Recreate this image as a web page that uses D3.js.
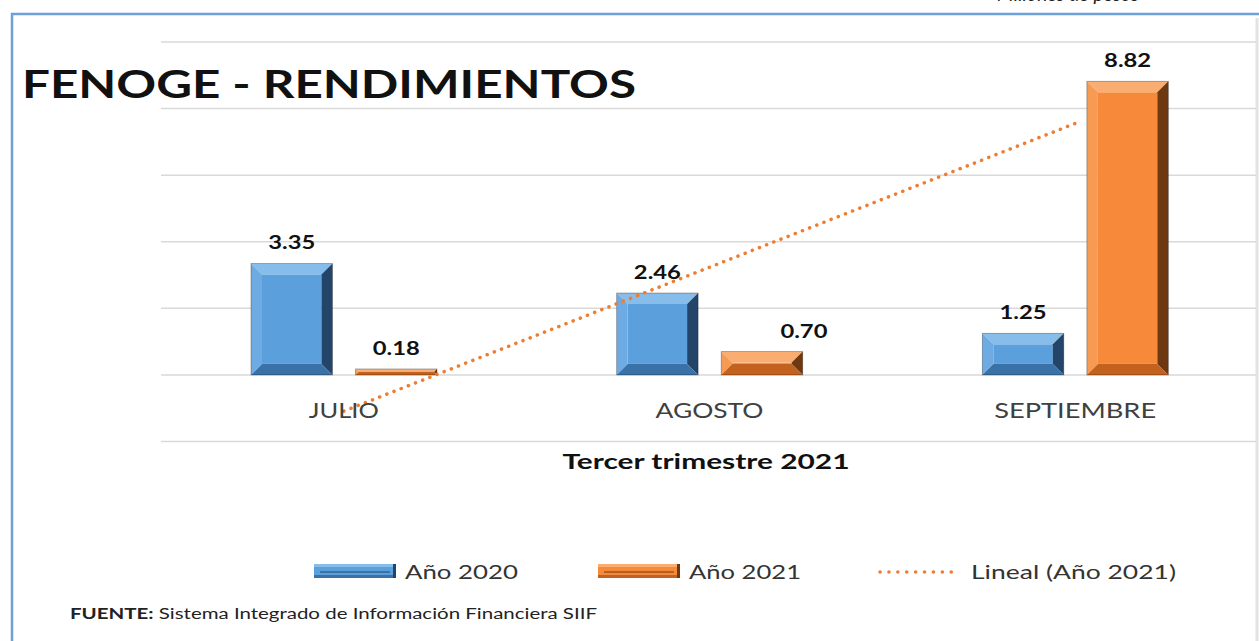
<!DOCTYPE html>
<html>
<head>
<meta charset="utf-8">
<script src="https://cdn.jsdelivr.net/npm/d3@7.9.0/dist/d3.min.js"></script>
<style>
  html, body { margin: 0; padding: 0; background: #fff; }
  svg { display: block; }
  text { font-family: Lato, "Open Sans", sans-serif; }
</style>
</head>
<body>
<svg id="chart" width="1259" height="641"></svg>
<script>
const categories = ['JULIO', 'AGOSTO', 'SEPTIEMBRE'];
const values2020 = [3.35, 2.46, 1.25];
const values2021 = [0.18, 0.70, 8.82];
const gridTicks = [-2, 0, 2, 4, 6, 8, 10];
const seriesNames = ['Año 2020', 'Año 2021', 'Lineal (Año 2021)'];

const W = 1259, H = 641;
const svg = d3.select('#chart');

// the source picture is stretched sideways, so texts get a fixed drawn width
const fit = (sel, w) => sel.attr('textLength', w).attr('lengthAdjust', 'spacingAndGlyphs');
const catWidths = { JULIO: 70, AGOSTO: 108, SEPTIEMBRE: 162 };

// palette (face, top, left, right, bottom)
const bevelColors = {
  blue:   { face: '#5b9fdd', top: '#86bdeb', left: '#6eabe3', right: '#23456a', bottom: '#3a72a8' },
  orange: { face: '#f68a3a', top: '#f9ad70', left: '#f79a52', right: '#6e3810', bottom: '#c2621e' }
};

// frame
svg.append('rect').attr('x', 0).attr('y', 0).attr('width', W).attr('height', H).attr('fill', '#fff');
svg.append('line').attr('x1', 1257).attr('x2', 1257).attr('y1', 18).attr('y2', H)
  .attr('stroke', '#e3e3e3').attr('stroke-width', 3);
svg.append('path').attr('d', `M12,${H} L12,14 L${W},14`)
  .attr('fill', 'none').attr('stroke', '#6d9fd9').attr('stroke-width', 2.5);

// top-right note, cut by the page edge as in the source
fit(svg.append('text').attr('x', 997).attr('y', 1)
  .attr('font-size', 19).attr('font-style', 'italic').attr('fill', '#222')
  .text('Millones de pesos'), 142);

const x = d3.scaleBand().domain(categories).range([161, 1258]);
const inner = d3.scaleBand().domain(['2020', '2021'])
  .range([90, 90 + 186]).paddingInner(0.221);
const y = d3.scaleLinear().domain([-2, 10]).range([441.5, 42]);

// gridlines
svg.append('g').selectAll('line').data(gridTicks).join('line')
  .attr('x1', 161).attr('x2', 1256)
  .attr('y1', d => y(d)).attr('y2', d => y(d))
  .attr('stroke', '#d9d9d9').attr('stroke-width', 1.5);

// title
fit(svg.append('text').attr('x', 22).attr('y', 98)
  .attr('font-size', 38).attr('font-weight', 700).attr('fill', '#111')
  .text('FENOGE - RENDIMIENTOS'), 614);

function bevelBar(g, bx, by, bw, bh, c) {
  const b = Math.min(11, bh / 2, bw / 2);
  const x0 = bx, x1 = bx + bw, y0 = by, y1 = by + bh;
  const ix0 = x0 + b, ix1 = x1 - b, iy0 = y0 + b, iy1 = y1 - b;
  const poly = pts => pts.map(p => p.join(',')).join(' ');
  g.append('rect').attr('x', ix0).attr('y', iy0).attr('width', ix1 - ix0).attr('height', Math.max(0, iy1 - iy0)).attr('fill', c.face);
  g.append('polygon').attr('points', poly([[x0, y0], [x1, y0], [ix1, iy0], [ix0, iy0]])).attr('fill', c.top);
  g.append('polygon').attr('points', poly([[x0, y0], [ix0, iy0], [ix0, iy1], [x0, y1]])).attr('fill', c.left);
  g.append('polygon').attr('points', poly([[x1, y0], [x1, y1], [ix1, iy1], [ix1, iy0]])).attr('fill', c.right);
  g.append('polygon').attr('points', poly([[x0, y1], [ix0, iy1], [ix1, iy1], [x1, y1]])).attr('fill', c.bottom);
  g.append('rect').attr('x', x0).attr('y', y0).attr('width', bw).attr('height', bh)
    .attr('fill', 'none').attr('stroke', 'rgba(0,0,0,0.35)').attr('stroke-width', 0.8);
}

const series = [
  { key: '2020', values: values2020, color: bevelColors.blue },
  { key: '2021', values: values2021, color: bevelColors.orange }
];
// label nudges (Excel moved the 0.70 label to the right)
const labelShift = { '2021-AGOSTO': 42 };

const bars = svg.append('g');
series.forEach(s => {
  s.values.forEach((v, i) => {
    const cat = categories[i];
    const bx = x(cat) + inner(s.key);
    const by = y(v);
    bevelBar(bars, bx, by, inner.bandwidth(), y(0) - by, s.color);
    fit(bars.append('text')
      .attr('x', bx + inner.bandwidth() / 2 + (labelShift[s.key + '-' + cat] || 0))
      .attr('y', by - 14)
      .attr('text-anchor', 'middle').attr('font-size', 18).attr('font-weight', 700).attr('fill', '#111')
      .text(v.toFixed(2)), 47);
  });
});

// linear trendline for 2021 (least squares over category index)
const idx = values2021.map((_, i) => i + 1);
const mx = d3.mean(idx), my = d3.mean(values2021);
const slope = d3.sum(idx, (t, i) => (t - mx) * (values2021[i] - my)) / d3.sum(idx, t => (t - mx) ** 2);
const icept = my - slope * mx;
const trend = idx.map((t, i) => [x(categories[i]) + x.bandwidth() / 2, y(icept + slope * t)]);
svg.append('path').attr('d', d3.line()(trend))
  .attr('fill', 'none').attr('stroke', '#ed7d31').attr('stroke-width', 3.5)
  .attr('stroke-linecap', 'round').attr('stroke-dasharray', '0.1 7.6');

// category labels
svg.append('g').selectAll('text').data(categories).join('text')
  .attr('x', d => x(d) + x.bandwidth() / 2).attr('y', 418)
  .attr('text-anchor', 'middle').attr('font-size', 22).attr('fill', '#404040')
  .attr('textLength', d => catWidths[d]).attr('lengthAdjust', 'spacingAndGlyphs')
  .text(d => d);

fit(svg.append('text').attr('x', 706).attr('y', 469).attr('text-anchor', 'middle')
  .attr('font-size', 21).attr('font-weight', 700).attr('fill', '#111')
  .text('Tercer trimestre 2021'), 287);

// legend
const leg = svg.append('g');
const legItems = [
  { name: seriesNames[0], sx: 314, tw: 113, color: bevelColors.blue, type: 'bar' },
  { name: seriesNames[1], sx: 598, tw: 112, color: bevelColors.orange, type: 'bar' },
  { name: seriesNames[2], sx: 880, tw: 205, type: 'line' }
];
legItems.forEach(d => {
  if (d.type === 'bar') {
    const lg = leg.append('g');
    const bw = 82, bh = 14, by = 564;
    const b = 3;
    const c = d.color;
    lg.append('rect').attr('x', d.sx).attr('y', by).attr('width', bw).attr('height', bh).attr('fill', c.face);
    lg.append('rect').attr('x', d.sx).attr('y', by).attr('width', bw).attr('height', b).attr('fill', c.top);
    lg.append('rect').attr('x', d.sx).attr('y', by + bh - b).attr('width', bw).attr('height', b).attr('fill', c.bottom);
    lg.append('rect').attr('x', d.sx + bw - b).attr('y', by).attr('width', b).attr('height', bh).attr('fill', c.right);
    lg.append('rect').attr('x', d.sx + 6).attr('y', by + 7).attr('width', bw - 12).attr('height', 2).attr('fill', c.right).attr('opacity', 0.5);
  } else {
    leg.append('line').attr('x1', d.sx).attr('x2', d.sx + 80).attr('y1', 572).attr('y2', 572)
      .attr('stroke', '#ed7d31').attr('stroke-width', 3.5)
      .attr('stroke-linecap', 'round').attr('stroke-dasharray', '0.1 8.8');
  }
  fit(leg.append('text').attr('x', d.sx + 91).attr('y', 579)
    .attr('font-size', 20).attr('fill', '#333').text(d.name), d.tw);
});

// source
const src = svg.append('text').attr('x', 70).attr('y', 619).attr('font-size', 14.5).attr('fill', '#222');
src.append('tspan').attr('font-weight', 700).text('FUENTE:');
src.append('tspan').text(' Sistema Integrado de Información Financiera SIIF');
fit(src, 527);
</script>
</body>
</html>
